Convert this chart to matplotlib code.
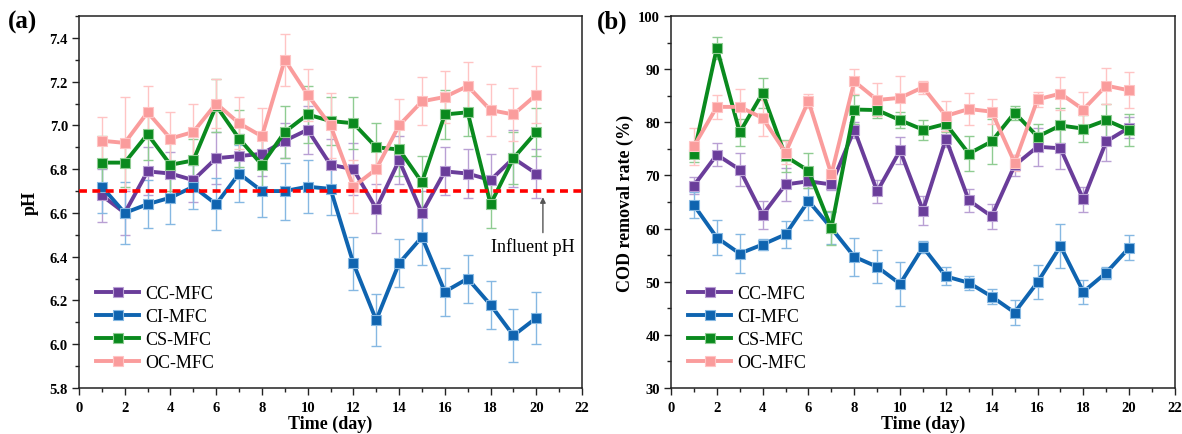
import matplotlib
matplotlib.use("Agg")
import matplotlib.pyplot as plt
from matplotlib.ticker import MultipleLocator

plt.rcParams['font.family'] = ['Liberation Serif', 'DejaVu Serif']

days = list(range(1, 21))
series_names = ["CC-MFC", "CI-MFC", "CS-MFC", "OC-MFC"]

# (a) pH
ph_cc = [6.68, 6.60, 6.79, 6.78, 6.75, 6.85, 6.86, 6.87, 6.93, 6.98,
         6.82, 6.80, 6.62, 6.84, 6.60, 6.79, 6.78, 6.75, 6.85, 6.78]
ph_ci = [6.72, 6.60, 6.64, 6.67, 6.72, 6.64, 6.78, 6.70, 6.70, 6.72,
         6.71, 6.37, 6.11, 6.37, 6.49, 6.24, 6.30, 6.18, 6.04, 6.12]
ph_cs = [6.83, 6.83, 6.96, 6.82, 6.84, 7.09, 6.94, 6.82, 6.97, 7.05,
         7.02, 7.01, 6.90, 6.89, 6.74, 7.05, 7.06, 6.64, 6.85, 6.97]
ph_oc = [6.93, 6.92, 7.06, 6.94, 6.97, 7.10, 7.01, 6.95, 7.30, 7.14,
         7.00, 6.72, 6.80, 7.00, 7.11, 7.13, 7.18, 7.07, 7.05, 7.14]
ph_cc_err = [0.12, 0.10, 0.11, 0.10, 0.10, 0.12, 0.10, 0.10, 0.08, 0.11,
             0.12, 0.12, 0.11, 0.11, 0.10, 0.11, 0.11, 0.12, 0.13, 0.11]
ph_ci_err = [0.12, 0.14, 0.11, 0.12, 0.10, 0.12, 0.13, 0.12, 0.13, 0.12,
             0.12, 0.12, 0.12, 0.11, 0.13, 0.11, 0.11, 0.11, 0.12, 0.12]
ph_cs_err = [0.12, 0.11, 0.12, 0.12, 0.10, 0.12, 0.13, 0.12, 0.12, 0.13,
             0.11, 0.12, 0.11, 0.12, 0.12, 0.11, 0.11, 0.11, 0.12, 0.11]
ph_oc_err = [0.11, 0.21, 0.12, 0.12, 0.13, 0.11, 0.12, 0.13, 0.12, 0.12,
             0.15, 0.12, 0.10, 0.12, 0.11, 0.12, 0.11, 0.12, 0.12, 0.13]
influent_ph = 6.7

# (b) COD removal rate (%)
cod_cc = [68.1, 73.9, 71.1, 62.6, 68.3, 68.9, 68.3, 78.6, 67.0, 74.7,
          63.4, 76.9, 65.3, 62.3, 71.9, 75.4, 75.1, 65.5, 76.4, 79.0]
cod_ci = [64.4, 58.3, 55.3, 57.0, 58.9, 65.2, 60.1, 54.7, 52.8, 49.6,
          56.5, 51.0, 49.8, 47.2, 44.2, 49.9, 56.7, 48.1, 51.7, 56.4]
cod_cs = [74.1, 94.0, 78.1, 85.5, 73.6, 70.9, 60.1, 82.4, 82.3, 80.4,
          78.6, 79.7, 74.1, 76.4, 81.8, 77.3, 79.4, 78.8, 80.4, 78.5]
cod_oc = [75.5, 82.9, 82.9, 80.8, 74.3, 84.0, 70.2, 87.7, 84.2, 84.6,
          86.6, 81.2, 82.5, 82.0, 72.4, 84.3, 85.4, 82.4, 86.9, 86.0]
cod_cc_err = [1.6, 2.2, 3.1, 2.6, 3.1, 1.3, 1.0, 1.5, 2.2, 2.6,
              2.7, 1.5, 2.2, 2.4, 2.0, 3.6, 3.8, 2.3, 3.6, 2.0]
cod_ci_err = [2.5, 3.3, 3.6, 1.1, 2.5, 3.5, 3.0, 3.6, 3.1, 4.2,
              1.1, 1.7, 1.3, 1.4, 2.3, 3.2, 4.1, 2.3, 1.1, 2.4]
cod_cs_err = [1.5, 2.1, 2.6, 2.8, 3.0, 3.3, 3.2, 2.8, 1.5, 1.5,
              1.9, 1.5, 3.3, 4.2, 1.3, 2.3, 3.3, 2.6, 3.1, 3.0]
cod_oc_err = [3.5, 2.3, 3.4, 3.4, 2.2, 1.3, 0.7, 2.3, 3.1, 4.2,
              1.2, 2.8, 3.0, 2.3, 1.5, 1.4, 3.1, 3.3, 3.4, 3.4]

line_colors = ["#6a3d9a", "#0f64b0", "#0a8a1e", "#fa9c9c"]
err_colors = ["#b9a0d4", "#86b8e2", "#8fcc92", "#ffc4c4"]

fig = plt.figure(figsize=(11.82, 4.35), dpi=100)
ax1 = fig.add_axes([79/1182, 1-389/435, 503/1182, 372/435])
ax2 = fig.add_axes([671/1182, 1-389/435, 504/1182, 372/435])


def draw(ax, ys, errs):
    for y, e, lc, ec, name in zip(ys, errs, line_colors, err_colors, series_names):
        ax.errorbar(days, y, yerr=e, fmt='none', ecolor=ec, elinewidth=1.0,
                    capsize=3.5, capthick=1.0, zorder=2)
    for y, lc, ec, name in zip(ys, line_colors, err_colors, series_names):
        ax.plot(days, y, color=lc, lw=2.8, marker='s', markersize=7.5,
                markerfacecolor=lc, markeredgecolor=ec, markeredgewidth=0.8,
                label=name, zorder=3)


def style(ax):
    ax.set_xlim(0, 22)
    ax.xaxis.set_major_locator(MultipleLocator(2))
    ax.xaxis.set_minor_locator(MultipleLocator(1))
    ax.tick_params(which='both', direction='out', top=False, right=False,
                   width=1.0, color='#222222')
    ax.tick_params(which='major', length=5, labelsize=10.5, pad=3)
    ax.tick_params(axis='x', which='major', pad=4.5)
    ax.tick_params(which='minor', length=3)
    for lab in ax.get_xticklabels() + ax.get_yticklabels():
        lab.set_fontweight('bold')
    for sp in ax.spines.values():
        sp.set_linewidth(1.1)
        sp.set_color('#222222')
    ax.set_xlabel("Time (day)", fontsize=13, fontweight='bold', labelpad=0)
    ax.legend(loc='lower left', bbox_to_anchor=(0.034, 0.045), frameon=False,
              fontsize=13, handlelength=2.4, handletextpad=0.3,
              labelspacing=0.34, borderpad=0, borderaxespad=0)


draw(ax1, [ph_cc, ph_ci, ph_cs, ph_oc],
     [ph_cc_err, ph_ci_err, ph_cs_err, ph_oc_err])
ax1.axhline(influent_ph, color='#ff0000', lw=2.6, ls=(0, (2.2, 1.5)), zorder=4)
ax1.set_ylim(5.8, 7.5)
ax1.yaxis.set_major_locator(MultipleLocator(0.2))
ax1.yaxis.set_minor_locator(MultipleLocator(0.1))
ax1.yaxis.set_major_formatter(matplotlib.ticker.FormatStrFormatter('%.1f'))
ax1.set_ylabel("pH", fontsize=13, fontweight='bold', labelpad=8)
ax1.annotate("", xy=(20.29, 6.672), xytext=(20.29, 6.51),
             arrowprops=dict(arrowstyle='-|>', color='#555555', lw=1.0,
                             mutation_scale=8, shrinkA=0, shrinkB=0))
ax1.text(19.87, 6.45, "Influent pH", fontsize=13, ha='center', va='center')
style(ax1)
fig.text(8/1182, 1-22/435, "(a)", fontsize=18, fontweight='bold',
         ha='left', va='center')

draw(ax2, [cod_cc, cod_ci, cod_cs, cod_oc],
     [cod_cc_err, cod_ci_err, cod_cs_err, cod_oc_err])
ax2.set_ylim(30, 100)
ax2.yaxis.set_major_locator(MultipleLocator(10))
ax2.yaxis.set_minor_locator(MultipleLocator(5))
ax2.set_ylabel("COD removal rate (%)", fontsize=13, fontweight='bold', labelpad=3)
style(ax2)
fig.text(597/1182, 1-22/435, "(b)", fontsize=18, fontweight='bold',
         ha='left', va='center')

fig.savefig("out.png", dpi=100)
